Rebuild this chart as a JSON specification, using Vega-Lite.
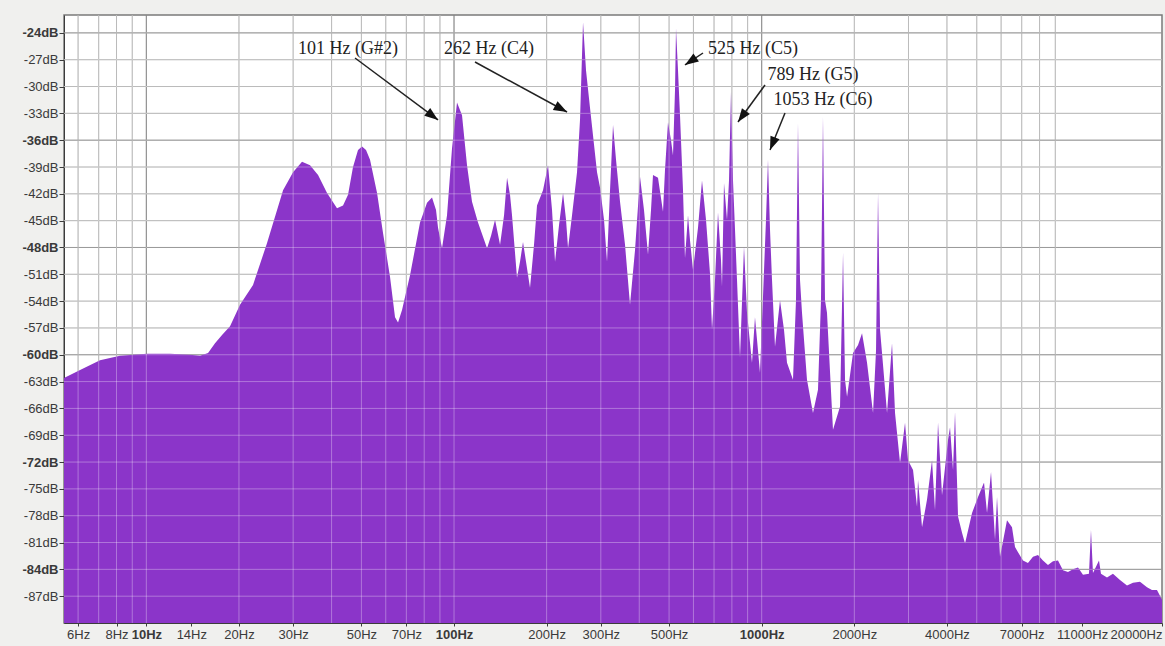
{
  "$schema": "https://vega.github.io/schema/vega-lite/v6.json",
  "width": 1098,
  "height": 608,
  "autosize": {"type": "none"},
  "padding": {"left": 64, "top": 15, "right": 3, "bottom": 23},
  "background": "#f0f0ee",
  "config": {
    "view": {"fill": "white", "stroke": "#7a7a7a", "strokeWidth": 1.5},
    "axis": {"grid": false, "labelOverlap": false}
  },
  "datasets": {
    "spec": [
      {"f": 5.4, "db": -62.6}, {"f": 6.09, "db": -61.7}, {"f": 7.07, "db": -60.6}, {"f": 8.21, "db": -60.1},
      {"f": 10.05, "db": -59.9}, {"f": 11.94, "db": -59.9}, {"f": 13.87, "db": -60.0}, {"f": 14.95, "db": -60.1},
      {"f": 15.87, "db": -59.8}, {"f": 16.72, "db": -58.7}, {"f": 17.62, "db": -57.8}, {"f": 18.71, "db": -56.8},
      {"f": 20.16, "db": -54.4}, {"f": 22.22, "db": -52.2}, {"f": 24.68, "db": -47.5}, {"f": 27.82, "db": -41.6},
      {"f": 29.98, "db": -39.6}, {"f": 32.06, "db": -38.4}, {"f": 34.05, "db": -38.8}, {"f": 36.15, "db": -39.9},
      {"f": 38.66, "db": -41.9}, {"f": 41.66, "db": -43.6}, {"f": 43.58, "db": -43.3}, {"f": 45.24, "db": -42.1},
      {"f": 46.96, "db": -39.0}, {"f": 48.75, "db": -37.1}, {"f": 50.24, "db": -36.7}, {"f": 51.76, "db": -37.1},
      {"f": 53.34, "db": -38.2}, {"f": 56.22, "db": -41.9}, {"f": 58.8, "db": -46.4}, {"f": 61.95, "db": -51.3},
      {"f": 64.31, "db": -55.8}, {"f": 65.77, "db": -56.4}, {"f": 67.77, "db": -55.0}, {"f": 71.95, "db": -51.1},
      {"f": 77.54, "db": -45.2}, {"f": 81.71, "db": -43.0}, {"f": 84.82, "db": -42.4}, {"f": 87.4, "db": -43.8},
      {"f": 88.72, "db": -45.8}, {"f": 91.41, "db": -48.1}, {"f": 94.9, "db": -44.4}, {"f": 98.52, "db": -36.9},
      {"f": 102.27, "db": -31.8}, {"f": 106.17, "db": -33.2}, {"f": 110.22, "db": -38.8}, {"f": 114.42, "db": -42.9},
      {"f": 119.67, "db": -45.2}, {"f": 128.04, "db": -48.1}, {"f": 131.93, "db": -46.7}, {"f": 135.94, "db": -44.9},
      {"f": 141.13, "db": -47.7}, {"f": 145.42, "db": -44.4}, {"f": 148.72, "db": -40.2}, {"f": 152.05, "db": -42.1},
      {"f": 154.34, "db": -44.4}, {"f": 160.22, "db": -51.4}, {"f": 163.86, "db": -49.6}, {"f": 167.58, "db": -47.4},
      {"f": 171.4, "db": -49.6}, {"f": 176.6, "db": -52.5}, {"f": 181.97, "db": -47.7}, {"f": 186.1, "db": -43.3},
      {"f": 194.65, "db": -41.6}, {"f": 202.09, "db": -38.8}, {"f": 208.24, "db": -43.8}, {"f": 212.97, "db": -49.6},
      {"f": 219.44, "db": -45.5}, {"f": 226.12, "db": -41.9}, {"f": 231.25, "db": -44.9}, {"f": 234.74, "db": -48.1},
      {"f": 241.87, "db": -44.4}, {"f": 251.07, "db": -39.6}, {"f": 256.77, "db": -33.7}, {"f": 262.6, "db": -22.8},
      {"f": 268.56, "db": -28.2}, {"f": 276.72, "db": -32.4}, {"f": 285.13, "db": -36.5}, {"f": 291.61, "db": -39.6},
      {"f": 298.22, "db": -41.3}, {"f": 307.28, "db": -44.9}, {"f": 314.26, "db": -49.6}, {"f": 321.39, "db": -41.6},
      {"f": 328.69, "db": -34.3}, {"f": 336.15, "db": -38.2}, {"f": 346.36, "db": -42.9}, {"f": 359.57, "db": -47.7},
      {"f": 373.26, "db": -54.4}, {"f": 387.49, "db": -48.3}, {"f": 402.24, "db": -40.1}, {"f": 414.45, "db": -43.8},
      {"f": 427.05, "db": -48.8}, {"f": 436.75, "db": -43.8}, {"f": 443.33, "db": -39.9}, {"f": 460.24, "db": -40.2},
      {"f": 477.79, "db": -44.0}, {"f": 485.0, "db": -39.3}, {"f": 496.01, "db": -34.0}, {"f": 507.27, "db": -36.0},
      {"f": 514.92, "db": -37.7}, {"f": 522.69, "db": -30.4}, {"f": 526.61, "db": -23.5}, {"f": 534.56, "db": -28.2},
      {"f": 542.6, "db": -33.2}, {"f": 554.92, "db": -41.6}, {"f": 563.28, "db": -49.2}, {"f": 576.08, "db": -44.4},
      {"f": 584.77, "db": -47.2}, {"f": 598.04, "db": -50.5}, {"f": 620.83, "db": -45.8}, {"f": 639.7, "db": -40.5},
      {"f": 659.14, "db": -44.9}, {"f": 679.17, "db": -50.9}, {"f": 689.41, "db": -57.2}, {"f": 705.06, "db": -51.6},
      {"f": 721.08, "db": -44.1}, {"f": 737.45, "db": -49.4}, {"f": 742.99, "db": -52.4}, {"f": 754.2, "db": -40.8},
      {"f": 771.32, "db": -44.9}, {"f": 782.95, "db": -40.5}, {"f": 794.75, "db": -30.6}, {"f": 806.74, "db": -40.5},
      {"f": 818.9, "db": -46.0}, {"f": 831.25, "db": -51.6}, {"f": 850.12, "db": -60.3}, {"f": 875.95, "db": -47.9},
      {"f": 895.8, "db": -55.3}, {"f": 929.9, "db": -60.9}, {"f": 951.0, "db": -55.8}, {"f": 987.3, "db": -62.0},
      {"f": 1009.8, "db": -53.5}, {"f": 1032.7, "db": -44.9}, {"f": 1048.3, "db": -38.2}, {"f": 1064.1, "db": -46.0},
      {"f": 1080.2, "db": -51.6}, {"f": 1104.7, "db": -59.1}, {"f": 1146.8, "db": -53.9}, {"f": 1181.6, "db": -57.2},
      {"f": 1208.5, "db": -60.9}, {"f": 1263.9, "db": -62.8}, {"f": 1292.6, "db": -53.9}, {"f": 1312.1, "db": -34.1},
      {"f": 1331.9, "db": -51.6}, {"f": 1352.0, "db": -55.3}, {"f": 1403.5, "db": -62.8}, {"f": 1467.9, "db": -66.5},
      {"f": 1523.9, "db": -63.9}, {"f": 1558.5, "db": -53.9}, {"f": 1582.0, "db": -33.4}, {"f": 1605.9, "db": -53.9},
      {"f": 1630.1, "db": -55.3}, {"f": 1704.9, "db": -68.4}, {"f": 1797.3, "db": -65.8}, {"f": 1838.1, "db": -48.6},
      {"f": 1865.8, "db": -62.8}, {"f": 1894.0, "db": -64.7}, {"f": 1981.0, "db": -59.8}, {"f": 2056.5, "db": -58.9},
      {"f": 2118.9, "db": -57.6}, {"f": 2199.7, "db": -60.9}, {"f": 2300.7, "db": -66.5}, {"f": 2352.9, "db": -59.5},
      {"f": 2388.4, "db": -41.9}, {"f": 2424.4, "db": -57.2}, {"f": 2460.9, "db": -59.8}, {"f": 2554.8, "db": -66.5},
      {"f": 2652.1, "db": -58.7}, {"f": 2712.3, "db": -66.5}, {"f": 2815.8, "db": -72.1}, {"f": 2923.1, "db": -67.6},
      {"f": 2989.4, "db": -71.8}, {"f": 3103.5, "db": -72.9}, {"f": 3197.8, "db": -77.0}, {"f": 3221.8, "db": -74.0},
      {"f": 3319.7, "db": -79.3}, {"f": 3446.2, "db": -76.2}, {"f": 3577.6, "db": -71.8}, {"f": 3658.8, "db": -77.4},
      {"f": 3741.9, "db": -67.6}, {"f": 3855.6, "db": -75.7}, {"f": 4032.7, "db": -69.5}, {"f": 4093.5, "db": -68.1},
      {"f": 4186.4, "db": -72.9}, {"f": 4249.5, "db": -66.4}, {"f": 4346.0, "db": -78.1}, {"f": 4478.1, "db": -79.9},
      {"f": 4579.8, "db": -81.1}, {"f": 4826.1, "db": -77.7}, {"f": 5047.7, "db": -75.9}, {"f": 5279.5, "db": -74.3},
      {"f": 5399.4, "db": -77.7}, {"f": 5563.4, "db": -73.1}, {"f": 5732.5, "db": -80.7}, {"f": 5819.0, "db": -75.9},
      {"f": 5951.1, "db": -82.6}, {"f": 6270.0, "db": -78.5}, {"f": 6509.1, "db": -79.3}, {"f": 6656.9, "db": -81.5},
      {"f": 6808, "db": -82.1}, {"f": 7067.6, "db": -83.0}, {"f": 7336, "db": -83.3}, {"f": 7616.3, "db": -82.6},
      {"f": 7907, "db": -82.4}, {"f": 8206.0, "db": -83.0}, {"f": 8520, "db": -83.5}, {"f": 8846.0, "db": -83.1},
      {"f": 9183, "db": -83.0}, {"f": 9532.3, "db": -84.1}, {"f": 9896, "db": -84.3}, {"f": 10273, "db": -84.0},
      {"f": 10666, "db": -83.8}, {"f": 11072, "db": -84.6}, {"f": 11580, "db": -84.5},
      {"f": 11755, "db": -79.6}, {"f": 11932, "db": -84.4}, {"f": 12481, "db": -83.0}, {"f": 12669, "db": -84.5},
      {"f": 13252, "db": -84.9}, {"f": 13855, "db": -84.5}, {"f": 14606, "db": -85.2}, {"f": 15390, "db": -85.8},
      {"f": 16097, "db": -85.5}, {"f": 16963, "db": -85.4}, {"f": 17875, "db": -86.0}, {"f": 18553, "db": -86.3},
      {"f": 19262, "db": -86.3}, {"f": 20000, "db": -87.4}
    ],
    "vgrid": [
      {"f": 6}, {"f": 7}, {"f": 8}, {"f": 9}, {"f": 10},
      {"f": 20}, {"f": 30}, {"f": 40}, {"f": 50}, {"f": 60}, {"f": 70}, {"f": 80}, {"f": 90}, {"f": 100},
      {"f": 200}, {"f": 300}, {"f": 400}, {"f": 500}, {"f": 600}, {"f": 700}, {"f": 800}, {"f": 900}, {"f": 1000},
      {"f": 2000}, {"f": 3000}, {"f": 4000}, {"f": 5000}, {"f": 6000}, {"f": 7000}, {"f": 8000}, {"f": 9000}
    ],
    "hgrid": [
      {"db": -24}, {"db": -27}, {"db": -30}, {"db": -33}, {"db": -36}, {"db": -39}, {"db": -42}, {"db": -45},
      {"db": -48}, {"db": -51}, {"db": -54}, {"db": -57}, {"db": -60}, {"db": -63}, {"db": -66}, {"db": -69},
      {"db": -72}, {"db": -75}, {"db": -78}, {"db": -81}, {"db": -84}, {"db": -87}
    ],
    "arrows": [
      {"label": "101 Hz (G#2)", "f1": 47.67, "d1": -26.81, "f2": 88.72, "d2": -33.74},
      {"label": "262 Hz (C4)", "f1": 117.0, "d1": -27.26, "f2": 232.99, "d2": -32.85},
      {"label": "525 Hz (C5)", "f1": 644.5, "d1": -26.25, "f2": 563.3, "d2": -27.59},
      {"label": "789 Hz (G5)", "f1": 1025.0, "d1": -29.83, "f2": 837.5, "d2": -33.97},
      {"label": "1053 Hz (C6)", "f1": 1190.5, "d1": -32.96, "f2": 1064.1, "d2": -37.1}
    ],
    "notes": [
      {"label": "101 Hz (G#2)", "f": 45.24, "db": -25.8},
      {"label": "262 Hz (C4)", "f": 129.96, "db": -25.8},
      {"label": "525 Hz (C5)", "f": 936.9, "db": -25.8},
      {"label": "789 Hz (G5)", "f": 1467.9, "db": -28.71},
      {"label": "1053 Hz (C6)", "f": 1582.0, "db": -31.51}
    ]
  },
  "layer": [
    {
      "data": {"name": "spec"},
      "mark": {"type": "area", "color": "#8b35c9", "interpolate": "linear", "clip": true, "opacity": 0},
      "encoding": {
        "x": {
          "field": "f", "type": "quantitative",
          "scale": {"type": "log", "domain": [5.4, 20000], "nice": false},
          "axis": {
            "title": null,
            "values": [6, 8, 10, 14, 20, 30, 50, 70, 100, 200, 300, 500, 1000, 2000, 4000, 7000, 11000, 20000],
            "tickCount": 60,
            "labelExpr": "datum.value + 'Hz'",
            "grid": false,
            "domainColor": "#3c3c3c",
            "tickColor": "#3c3c3c",
            "tickSize": 3,
            "labelPadding": 2,
            "labelFont": "Liberation Sans",
            "labelFontSize": 13,
            "labelColor": "#3a3a3a",
            "labelOverlap": false,
            "labelFlush": true,
            "labelFontWeight": {"condition": {"test": "datum.value == 10 || datum.value == 100 || datum.value == 1000", "value": "bold"}, "value": "normal"}
          }
        },
        "y": {
          "field": "db", "type": "quantitative",
          "scale": {"domain": [-90, -22], "nice": false, "zero": false},
          "axis": {
            "title": null,
            "values": [-24, -27, -30, -33, -36, -39, -42, -45, -48, -51, -54, -57, -60, -63, -66, -69, -72, -75, -78, -81, -84, -87],
            "tickCount": 60,
            "labelExpr": "datum.value + 'dB'",
            "grid": false,
            "domainColor": "#3c3c3c",
            "tickColor": "#3c3c3c",
            "tickSize": 5,
            "labelPadding": 1,
            "labelFont": "Liberation Sans",
            "labelFontSize": 13,
            "labelColor": "#3a3a3a",
            "labelOverlap": false,
            "labelFlush": false,
            "labelFontWeight": {"condition": {"test": "datum.value % 12 == 0", "value": "bold"}, "value": "normal"}
          }
        },
        "y2": {"datum": -90}
      }
    },
    {
      "data": {"name": "vgrid"},
      "transform": [{"filter": "datum.f != 10 && datum.f != 100 && datum.f != 1000"}],
      "mark": {"type": "rule", "color": "#9c9c9c", "strokeWidth": 1},
      "encoding": {"x": {"field": "f", "type": "quantitative"}}
    },
    {
      "data": {"name": "vgrid"},
      "transform": [{"filter": "datum.f == 10 || datum.f == 100 || datum.f == 1000"}],
      "mark": {"type": "rule", "color": "#555555", "strokeWidth": 1},
      "encoding": {"x": {"field": "f", "type": "quantitative"}}
    },
    {
      "data": {"name": "hgrid"},
      "transform": [{"filter": "datum.db % 12 != 0"}],
      "mark": {"type": "rule", "color": "#9c9c9c", "strokeWidth": 1},
      "encoding": {"y": {"field": "db", "type": "quantitative"}}
    },
    {
      "data": {"name": "hgrid"},
      "transform": [{"filter": "datum.db % 12 == 0"}],
      "mark": {"type": "rule", "color": "#6a6a6a", "strokeWidth": 1},
      "encoding": {"y": {"field": "db", "type": "quantitative"}}
    },
    {
      "data": {"name": "spec"},
      "mark": {"type": "area", "color": "#8b35c9", "interpolate": "linear", "clip": true},
      "encoding": {
        "x": {"field": "f", "type": "quantitative"},
        "y": {"field": "db", "type": "quantitative"},
        "y2": {"datum": -90}
      }
    },
    {
      "data": {"name": "vgrid"},
      "mark": {"type": "rule", "color": "white", "opacity": 0.32, "strokeWidth": 1},
      "encoding": {"x": {"field": "f", "type": "quantitative"}}
    },
    {
      "data": {"name": "hgrid"},
      "mark": {"type": "rule", "color": "white", "opacity": 0.32, "strokeWidth": 1},
      "encoding": {"y": {"field": "db", "type": "quantitative"}}
    },
    {
      "data": {"name": "arrows"},
      "mark": {"type": "rule", "color": "#222222", "strokeWidth": 1.5},
      "encoding": {
        "x": {"field": "f1", "type": "quantitative"},
        "y": {"field": "d1", "type": "quantitative"},
        "x2": {"field": "f2"},
        "y2": {"field": "d2"}
      }
    },
    {
      "data": {"name": "arrows"},
      "transform": [{"filter": "datum.label == '101 Hz (G#2)'"}],
      "mark": {"type": "point", "shape": "M0,0L-0.8,2.2L0.8,2.2Z", "size": 150, "filled": true, "color": "#111111", "opacity": 1, "angle": 127},
      "encoding": {"x": {"field": "f2", "type": "quantitative"}, "y": {"field": "d2", "type": "quantitative"}}
    },
    {
      "data": {"name": "arrows"},
      "transform": [{"filter": "datum.label == '262 Hz (C4)'"}],
      "mark": {"type": "point", "shape": "M0,0L-0.8,2.2L0.8,2.2Z", "size": 150, "filled": true, "color": "#111111", "opacity": 1, "angle": 118.5},
      "encoding": {"x": {"field": "f2", "type": "quantitative"}, "y": {"field": "d2", "type": "quantitative"}}
    },
    {
      "data": {"name": "arrows"},
      "transform": [{"filter": "datum.label == '525 Hz (C5)'"}],
      "mark": {"type": "point", "shape": "M0,0L-0.8,2.2L0.8,2.2Z", "size": 150, "filled": true, "color": "#111111", "opacity": 1, "angle": 236},
      "encoding": {"x": {"field": "f2", "type": "quantitative"}, "y": {"field": "d2", "type": "quantitative"}}
    },
    {
      "data": {"name": "arrows"},
      "transform": [{"filter": "datum.label == '789 Hz (G5)'"}],
      "mark": {"type": "point", "shape": "M0,0L-0.8,2.2L0.8,2.2Z", "size": 150, "filled": true, "color": "#111111", "opacity": 1, "angle": 216},
      "encoding": {"x": {"field": "f2", "type": "quantitative"}, "y": {"field": "d2", "type": "quantitative"}}
    },
    {
      "data": {"name": "arrows"},
      "transform": [{"filter": "datum.label == '1053 Hz (C6)'"}],
      "mark": {"type": "point", "shape": "M0,0L-0.8,2.2L0.8,2.2Z", "size": 150, "filled": true, "color": "#111111", "opacity": 1, "angle": 202},
      "encoding": {"x": {"field": "f2", "type": "quantitative"}, "y": {"field": "d2", "type": "quantitative"}}
    },
    {
      "data": {"name": "notes"},
      "mark": {"type": "text", "font": "Liberation Serif", "fontSize": 18, "color": "#222222", "align": "center", "baseline": "middle"},
      "encoding": {
        "x": {"field": "f", "type": "quantitative"},
        "y": {"field": "db", "type": "quantitative"},
        "text": {"field": "label"}
      }
    }
  ]
}
